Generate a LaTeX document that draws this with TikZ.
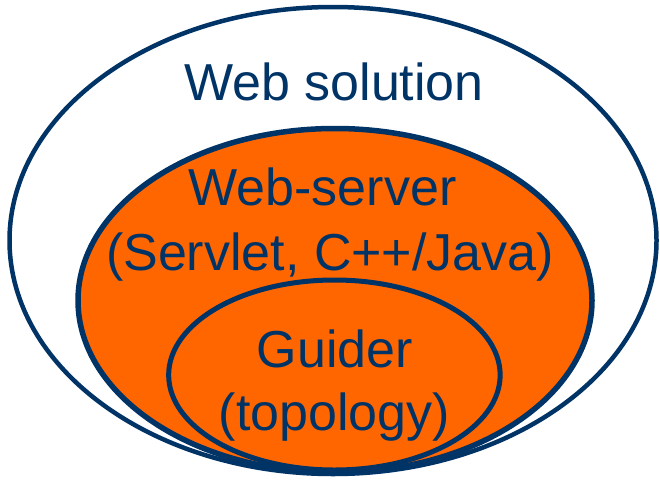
\documentclass[tikz,border=0pt]{standalone}
\usepackage{fontspec}
\setmainfont{Liberation Sans}
\usetikzlibrary{shapes.geometric}
\definecolor{navy}{HTML}{003366}
\definecolor{orng}{HTML}{FF6600}
\begin{document}
\begin{tikzpicture}[x=1pt,y=-1pt,
  ring/.style={ellipse, draw=navy, line width=5pt, inner sep=0pt, outer sep=0pt},
  lbl/.style={text=navy, font=\fontsize{52}{63}\selectfont, inner sep=0pt, anchor=base}]
\useasboundingbox (0,0) rectangle (660,479);
\fill[white] (0,0) rectangle (660,479);
\node[ring, line width=4.5pt, fill=white, minimum width=647pt, minimum height=467pt] (outer) at (333,240.5) {};
\node[ring, line width=5.5pt, fill=orng, minimum width=514pt, minimum height=344pt] (middle) at (335,300.5) {};
\node[ring, fill=orng, minimum width=331.5pt, minimum height=190pt] (inner) at (334.4,375) {};
\node[lbl] (websol) at (334,100) {Web solution};
\node[lbl] (webserver) at (322.5,205) {Web-server};
\node[lbl] (servlet) at (330,270) {(Servlet, C++/Java)};
\node[lbl] (guider) at (335,367) {Guider};
\node[lbl] (topology) at (334.5,430) {(topology)};
\end{tikzpicture}
\end{document}
